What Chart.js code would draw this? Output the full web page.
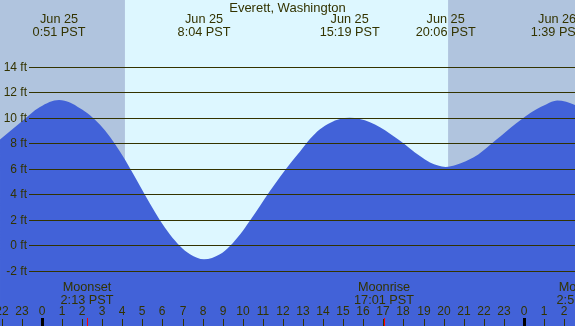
<!DOCTYPE html>
<html>
<head>
<meta charset="utf-8">
<script src="https://cdn.jsdelivr.net/npm/chart.js@4/dist/chart.umd.min.js"></script>
<style>
  body { margin: 0; background: #fff; }
  #tide { display: block; }
</style>
</head>
<body>
<canvas id="tide" width="575" height="326"></canvas>
<script>
/* Tide data, hours from Jun 25 0:00 PST, heights in ft */
var tideHours = [-2.09, -1.1, -0.1, 0.85, 1.39, 1.89, 2.39, 2.89, 3.39, 3.88, 4.38, 4.88, 5.38, 5.88, 6.37, 6.87, 7.37,
                 8.07, 8.86, 9.36, 9.86, 10.36, 10.86, 11.35, 11.85, 12.35, 12.85, 13.35, 13.84, 14.34, 14.84, 15.32,
                 15.82, 16.33, 16.83, 17.33, 17.83, 18.32, 18.82, 19.32, 19.72, 20.1,
                 20.6, 21.1, 21.6, 22.1, 22.6, 23.1, 23.6, 24.1, 24.6, 25.1, 25.65, 26.1, 26.54];
var tideFeet  = [8.3, 9.6, 10.85, 11.4, 11.2, 10.75, 10.2, 9.45, 8.5, 7.35, 6.05, 4.65, 3.25, 1.95, 0.85, -0.05, -0.7,
                 -1.1, -0.7, -0.05, 0.85, 1.95, 3.1, 4.25, 5.35, 6.4, 7.35, 8.35, 9.1, 9.6, 9.9, 10.0,
                 9.9, 9.65, 9.25, 8.75, 8.2, 7.6, 7.0, 6.5, 6.25, 6.15,
                 6.3, 6.6, 7.0, 7.6, 8.25, 8.9, 9.55, 10.15, 10.65, 11.05, 11.35, 11.25, 11.0];

var extremeHours = [0.85, 8.07, 15.32, 20.1, 25.65];
var extremeDates = ['Jun 25', 'Jun 25', 'Jun 25', 'Jun 25', 'Jun 26'];
var extremeTimes = ['0:51 PST', '8:04 PST', '15:19 PST', '20:06 PST', '1:39 PST'];

var moonHours = [2.22, 17.02, 26.93];
var moonLabels = ['Moonset', 'Moonrise', 'Moonset'];
var moonTimes = ['2:13 PST', '17:01 PST', '2:56 PST'];

var sunrise = 4.13;
var sunset = 20.22;

var feetTicks = [-2, 0, 2, 4, 6, 8, 10, 12, 14];
var hourTicks = [-2, -1, 0, 1, 2, 3, 4, 5, 6, 7, 8, 9, 10, 11, 12, 13, 14, 15, 16, 17, 18, 19, 20, 21, 22, 23, 24, 25, 26];

var ink = '#333300';
var font = '12px "Liberation Sans", Arial, sans-serif';
var bigFont = '12.7px "Liberation Sans", Arial, sans-serif';

/* ночь / день на фоне, подписи поверх */
var tideDecor = {
    id: 'tideDecor',
    beforeDatasetsDraw: function (chart) {
        var c = chart.ctx, a = chart.chartArea, x = chart.scales.x;
        c.save();
        c.fillStyle = '#b0c4de';
        c.fillRect(a.left, a.top, a.right - a.left, a.bottom - a.top);
        var x1 = x.getPixelForValue(sunrise), x2 = x.getPixelForValue(sunset);
        c.fillStyle = '#ddf7ff';
        c.fillRect(x1, a.top, x2 - x1, a.bottom - a.top);
        c.restore();
    },
    afterDatasetsDraw: function (chart) {
        var c = chart.ctx, a = chart.chartArea, x = chart.scales.x, y = chart.scales.y;
        c.save();
        c.font = font;
        c.fillStyle = ink;
        c.textBaseline = 'middle';

        // gridlines and ft labels
        c.strokeStyle = ink;
        c.lineWidth = 1;
        feetTicks.forEach(function (v) {
            var py = Math.round(y.getPixelForValue(v)) + 0.5;
            c.beginPath();
            c.moveTo(29, py);
            c.lineTo(a.right, py);
            c.stroke();
            c.textAlign = 'right';
            c.fillText(v + ' ft', 27, py);
        });

        // hour ticks
        c.textAlign = 'center';
        hourTicks.forEach(function (h) {
            var px = Math.round(x.getPixelForValue(h));
            var lbl = ((h % 24) + 24) % 24;
            c.fillText(String(lbl), px, 312);
            if (lbl === 0) {
                c.fillStyle = '#000';
                c.fillRect(px - 1, 318, 3, 8);
                c.fillStyle = ink;
            } else {
                c.fillRect(px, 319, 1, 7);
            }
        });

        // moon
        c.font = bigFont;
        moonHours.forEach(function (h, i) {
            var px = Math.round(x.getPixelForValue(h));
            c.fillStyle = ink;
            c.fillText(moonLabels[i], px, 287);
            c.fillText(moonTimes[i], px, 300);
            c.fillStyle = '#ff0000';
            c.fillRect(px, 318, 1, 8);
        });

        // highs and lows
        c.fillStyle = ink;
        extremeHours.forEach(function (h, i) {
            var px = x.getPixelForValue(h);
            c.fillText(extremeDates[i], px, 19);
            c.fillText(extremeTimes[i], px, 32);
        });

        // title
        c.font = '13px "Liberation Sans", Arial, sans-serif';
        c.fillText('Everett, Washington', (a.left + a.right) / 2, 8);
        c.restore();
    }
};

var ctx = document.getElementById('tide').getContext('2d');
var tide = new Chart(ctx, {
    type: 'line',
    data: {
        datasets: [{
            label: 'Tide',
            data: tideHours.map(function (h, i) { return { x: h, y: tideFeet[i] }; }),
            borderWidth: 0,
            borderColor: 'rgba(0,0,0,0)',
            backgroundColor: '#4262d8',
            fill: 'start',
            pointRadius: 0,
            cubicInterpolationMode: 'monotone'
        }]
    },
    options: {
        responsive: false,
        animation: false,
        layout: { padding: 0 },
        plugins: {
            legend: { display: false },
            tooltip: { enabled: false }
        },
        scales: {
            x: { type: 'linear', min: -2.091, max: 26.54, display: false },
            y: { min: -6.33, max: 19.24, display: false }
        }
    },
    plugins: [tideDecor]
});
</script>
</body>
</html>
